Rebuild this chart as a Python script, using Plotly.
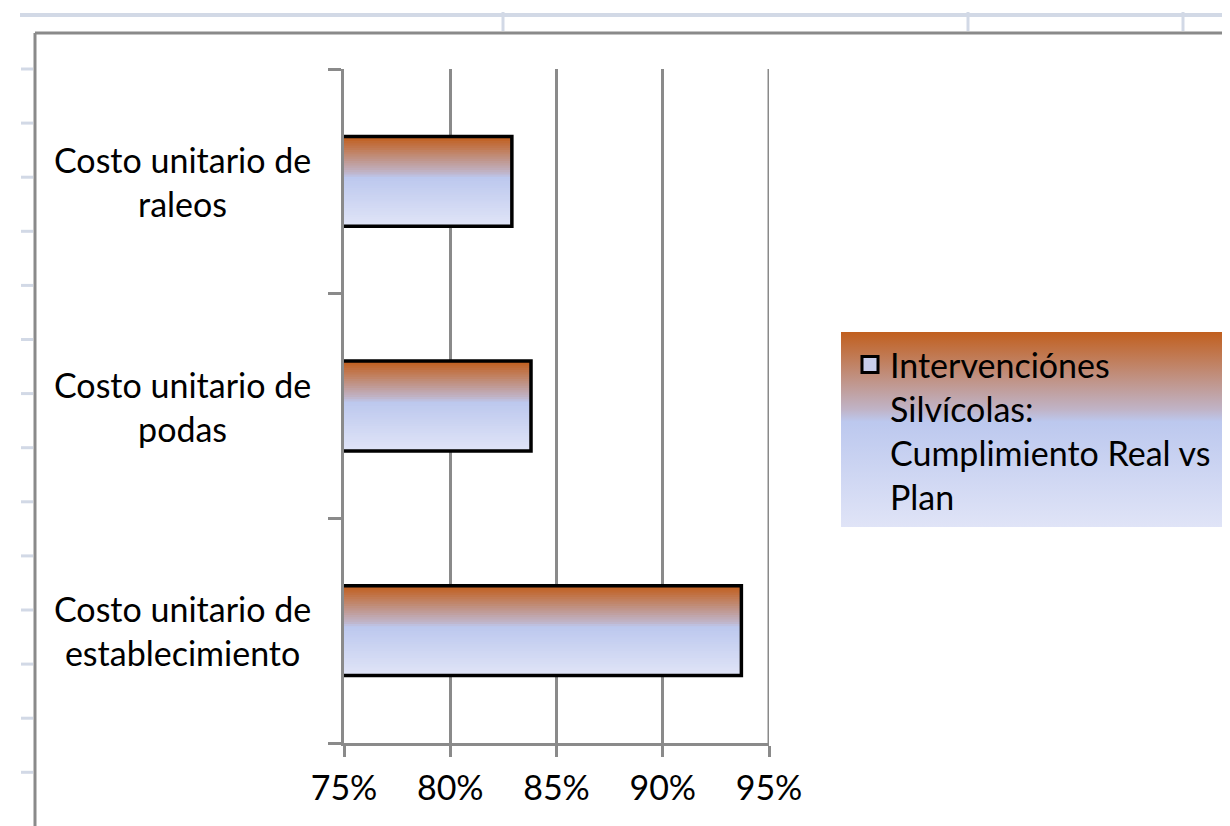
import base64
import plotly.graph_objects as go

# ---- data ----
categories = ["Costo unitario de<br>establecimiento", "Costo unitario de<br>podas", "Costo unitario de<br>raleos"]
values = [0.937, 0.838, 0.829]
series_name = "Intervenciónes<br>Silvícolas:<br>Cumplimiento Real vs<br>Plan"
x_ticks = [0.75, 0.80, 0.85, 0.90, 0.95]
x_tick_labels = ["75%", "80%", "85%", "90%", "95%"]

# ---- styling ----
OFF = 8  # page body margin
W, H = 1230 - OFF, 826 - OFF
L, R, T, B = 344, 769, 69, 743  # plot area in screen pixels
FONT = "Lato"
FS = 34
GRID = "#8a8a8a"
SHEET = "#d2d9e6"
stops = [(0.0, (193, 95, 30)), (0.40, (192, 180, 200)), (0.46, (188, 200, 238)), (1.0, (224, 228, 247))]


def grad(t):
    for (a, ca), (b, cb) in zip(stops[:-1], stops[1:]):
        if a <= t <= b:
            f = (t - a) / (b - a) if b > a else 0
            return "rgb(%d,%d,%d)" % tuple(round(ca[i] + (cb[i] - ca[i]) * f) for i in range(3))
    return "rgb(%d,%d,%d)" % stops[-1][1]


def px(x):
    return (x - L) / (R - L)


def py(y):
    return (B - y) / (B - T)


fig = go.Figure()

BAR_W = 0.4
N = 40
for i in range(N):
    w = BAR_W / N
    fig.add_trace(go.Bar(
        y=categories, x=values, orientation="h",
        width=BAR_W - i * w, offset=-BAR_W / 2,
        marker=dict(color=grad(i / (N - 1)), line=dict(width=0)),
        showlegend=False, hoverinfo="skip",
    ))

fig.add_trace(go.Bar(
    y=categories, x=values, orientation="h", width=BAR_W,
    marker=dict(color="rgba(0,0,0,0)", line=dict(color="black", width=3.5)),
    name=series_name, showlegend=False,
))

# legend entry (bigger square symbol, like the reference)
fig.add_trace(go.Scatter(
    x=[None], y=[None], mode="markers", name=series_name, showlegend=True,
    marker=dict(symbol="square", size=16, color="rgb(200,206,236)", line=dict(color="black", width=3)),
))

# category labels (centered, two lines)
for c in categories:
    fig.add_annotation(x=px(182), xref="paper", y=c, yref="y", text=c, showarrow=False,
                       xanchor="center", yanchor="middle", align="center",
                       font=dict(family=FONT, size=FS, color="black"))

shapes = []
# last gridline (at right edge of plot)
shapes.append(dict(type="line", xref="x", yref="paper", x0=x_ticks[-1], x1=x_ticks[-1], y0=0, y1=1,
                   line=dict(color=GRID, width=3)))
# chart-area border
shapes.append(dict(type="line", xref="paper", yref="paper", x0=px(35), x1=px(1240), y0=py(33), y1=py(33),
                   line=dict(color="#8a8a8a", width=3)))
shapes.append(dict(type="line", xref="paper", yref="paper", x0=px(35), x1=px(35), y0=py(33), y1=py(840),
                   line=dict(color="#8a8a8a", width=3)))
# spreadsheet background lines
shapes.append(dict(type="line", xref="paper", yref="paper", x0=px(20), x1=px(1240), y0=py(15), y1=py(15),
                   line=dict(color=SHEET, width=4)))
for xv in [503, 968, 1183]:
    shapes.append(dict(type="line", xref="paper", yref="paper", x0=px(xv), x1=px(xv), y0=py(12), y1=py(31),
                       line=dict(color=SHEET, width=3)))
for k in range(14):
    yv = 69 + 54.1 * k
    shapes.append(dict(type="line", xref="paper", yref="paper", x0=px(21), x1=px(33), y0=py(yv), y1=py(yv),
                       line=dict(color=SHEET, width=3)))

svg = ('<svg xmlns="http://www.w3.org/2000/svg" width="100" height="100" viewBox="0 0 100 100" '
       'preserveAspectRatio="none"><defs><linearGradient id="g" x1="0" y1="0" x2="0" y2="1">'
       + "".join('<stop offset="%g" stop-color="rgb%s"/>' % (o, str(c)) for o, c in stops)
       + '</linearGradient></defs><rect width="100" height="100" fill="url(#g)"/></svg>')
img_src = "data:image/svg+xml;base64," + base64.b64encode(svg.encode()).decode()

fig.update_layout(
    width=W, height=H,
    margin=dict(l=L - OFF, r=W - (R - OFF), t=T - OFF, b=H - (B - OFF), pad=0),
    paper_bgcolor="white", plot_bgcolor="white",
    barmode="overlay",
    font=dict(family=FONT, size=FS, color="black"),
    shapes=shapes,
    images=[dict(source=img_src, xref="paper", yref="paper", x=px(841), y=py(332),
                 sizex=px(1222) - px(841), sizey=py(332) - py(527), sizing="stretch",
                 xanchor="left", yanchor="top", layer="below")],
    legend=dict(x=px(850), y=py(336), xanchor="left", yanchor="top", bgcolor="rgba(0,0,0,0)",
                valign="top", font=dict(family=FONT, size=FS, color="black"), tracegroupgap=0),
    xaxis=dict(range=[0.75, 0.95], tickvals=x_ticks, ticktext=x_tick_labels,
               showgrid=True, gridcolor=GRID, gridwidth=3, zeroline=False,
               showline=True, linecolor=GRID, linewidth=3,
               ticks="outside", ticklen=11, tickwidth=3, tickcolor=GRID,
               ticklabelstandoff=2, tickfont=dict(family=FONT, size=FS, color="black")),
    yaxis=dict(type="category", categoryorder="array", categoryarray=categories,
               range=[-0.5, 2.5], showgrid=False, zeroline=False,
               showline=True, linecolor=GRID, linewidth=3,
               ticks="outside", tickson="boundaries", ticklen=13, tickwidth=3, tickcolor=GRID,
               showticklabels=False),
)

fig.write_html("out.html")
